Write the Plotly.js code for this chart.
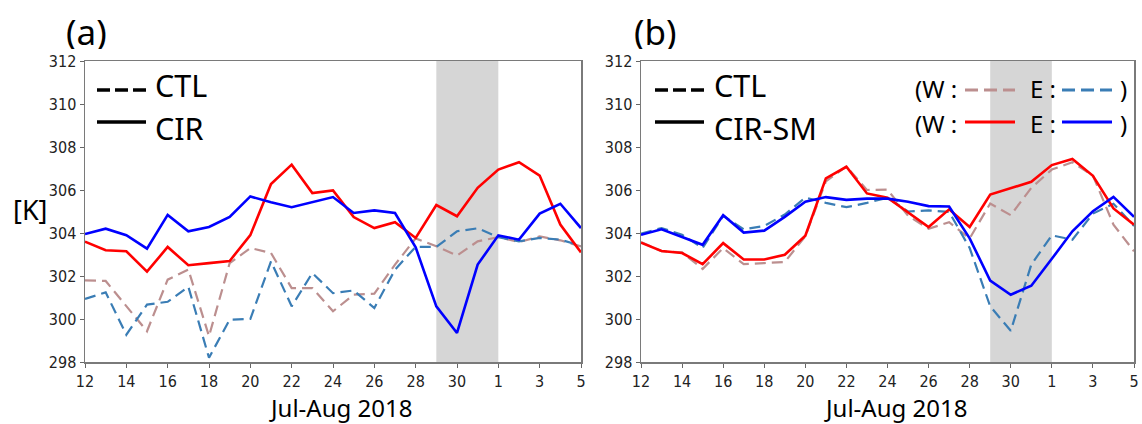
<!DOCTYPE html>
<html>
<head>
<meta charset="utf-8">
<script src="https://cdn.plot.ly/plotly-3.0.1.min.js"></script>
<style>
html,body{margin:0;padding:0;background:#fff;}
#chart{width:1142px;height:424px;}
</style>
</head>
<body>
<div id="chart"></div>
<script>
// ---------------- data ----------------
var dates = ['2018-07-12','2018-07-13','2018-07-14','2018-07-15','2018-07-16','2018-07-17','2018-07-18',
             '2018-07-19','2018-07-20','2018-07-21','2018-07-22','2018-07-23','2018-07-24','2018-07-25',
             '2018-07-26','2018-07-27','2018-07-28','2018-07-29','2018-07-30','2018-07-31','2018-08-01',
             '2018-08-02','2018-08-03','2018-08-04','2018-08-05'];

var tickDates  = ['2018-07-12','2018-07-14','2018-07-16','2018-07-18','2018-07-20','2018-07-22','2018-07-24',
                  '2018-07-26','2018-07-28','2018-07-30','2018-08-01','2018-08-03','2018-08-05'];
var tickLabels = ['12','14','16','18','20','22','24','26','28','30','1','3','5'];
var yTicks = [298,300,302,304,306,308,310,312];

var shadeStart = '2018-07-29';
var shadeEnd   = '2018-08-01';

// Panel (a)
var ctlA_W = [301.80,301.77,300.60,299.43,301.83,302.30,299.20,302.60,303.30,303.07,301.44,301.44,300.36,
              301.13,301.18,302.53,303.75,303.38,302.95,303.61,303.81,303.58,303.84,303.66,303.38];
var ctlA_E = [300.93,301.24,299.27,300.67,300.80,301.50,298.20,299.97,300.00,302.68,300.59,302.14,301.20,
              301.33,300.51,302.29,303.36,303.35,304.08,304.22,303.81,303.61,303.77,303.69,303.41];
var cirA_W = [303.60,303.20,303.15,302.20,303.35,302.50,302.60,302.70,303.90,306.28,307.18,305.86,305.98,
              304.74,304.23,304.50,303.77,305.30,304.78,306.10,306.95,307.29,306.67,304.39,303.10];
var cirA_E = [303.95,304.20,303.90,303.27,304.84,304.08,304.28,304.75,305.70,305.43,305.20,305.43,305.67,
              304.93,305.05,304.93,303.33,300.59,299.35,302.53,303.89,303.69,304.90,305.36,304.23];

// Panel (b)
var ctlB_W = [303.58,303.15,303.10,302.33,303.30,302.55,302.60,302.65,303.85,306.40,307.10,306.00,306.02,
              304.80,304.20,304.50,303.75,305.37,304.83,306.10,306.95,307.29,306.67,304.39,303.15];
var ctlB_E = [303.97,304.23,303.92,303.30,304.80,304.17,304.33,304.86,305.65,305.40,305.20,305.40,305.64,
              305.00,305.05,304.98,303.30,300.59,299.45,302.53,303.89,303.69,304.90,305.36,304.33];
var cirB_W = [303.55,303.16,303.07,302.55,303.53,302.77,302.77,302.99,303.87,306.54,307.08,305.84,305.64,
              304.98,304.28,305.10,304.28,305.79,306.07,306.38,307.16,307.44,306.66,305.14,304.39];
var cirB_E = [303.92,304.17,303.81,303.45,304.83,304.02,304.11,304.75,305.45,305.67,305.54,305.60,305.60,
              305.45,305.25,305.23,303.75,301.79,301.13,301.55,302.80,304.08,305.01,305.68,304.75];

// ---------------- styling ----------------
var W = 1142, H = 424;
var C_ROSY = '#bc8f8f', C_STEEL = '#3a7db5', C_RED = '#ff0000', C_BLUE = '#0000ff';
var DASH = '11px,6px';
var TXT = 'Noto Sans, DejaVu Sans, sans-serif';
var TICKF = 'DejaVu Sans Condensed, Liberation Sans Narrow, DejaVu Sans, sans-serif';

function px(x){ return x / W; }
function py(y){ return 1 - y / H; }

function tr(y, color, dash, width, xa, ya){
  return {x: dates, y: y, type: 'scatter', mode: 'lines', xaxis: xa, yaxis: ya,
          line: {color: color, width: width, dash: dash}, showlegend: false, hoverinfo: 'skip'};
}

var traces = [
  tr(ctlA_W, C_ROSY, DASH, 2.2, 'x', 'y'),
  tr(ctlA_E, C_STEEL, DASH, 2.2, 'x', 'y'),
  tr(cirA_W, C_RED, 'solid', 2.6, 'x', 'y'),
  tr(cirA_E, C_BLUE, 'solid', 2.6, 'x', 'y'),
  tr(ctlB_W, C_ROSY, DASH, 2.2, 'x2', 'y2'),
  tr(ctlB_E, C_STEEL, DASH, 2.2, 'x2', 'y2'),
  tr(cirB_W, C_RED, 'solid', 2.6, 'x2', 'y2'),
  tr(cirB_E, C_BLUE, 'solid', 2.6, 'x2', 'y2')
];

function xax(dom, anchor){
  return {domain: dom, anchor: anchor, type: 'date', range: [dates[0], dates[dates.length-1]],
          tickmode: 'array', tickvals: tickDates, ticktext: tickLabels,
          ticks: 'outside', ticklen: 4, tickwidth: 1, tickcolor: '#666',
          showline: true, mirror: true, linecolor: '#7a7a7a', linewidth: 1.5,
          showgrid: false, zeroline: false, fixedrange: true,
          tickfont: {family: TICKF, size: 16, color: '#222'}};
}
function yax(anchor){
  return {domain: [1 - 362/H, 1 - 61/H], anchor: anchor, range: [298, 312],
          tickmode: 'array', tickvals: yTicks,
          ticks: 'outside', ticklen: 4, tickwidth: 1, tickcolor: '#666',
          showline: true, mirror: true, linecolor: '#7a7a7a', linewidth: 1.5,
          showgrid: false, zeroline: false, fixedrange: true,
          tickfont: {family: TICKF, size: 16, color: '#222'}};
}

var shapes = [
  {type: 'rect', xref: 'x', yref: 'y domain', x0: shadeStart, x1: shadeEnd, y0: 0, y1: 1,
   fillcolor: '#d6d6d6', line: {width: 0}, layer: 'below'},
  {type: 'rect', xref: 'x2', yref: 'y2 domain', x0: shadeStart, x1: shadeEnd, y0: 0, y1: 1,
   fillcolor: '#d6d6d6', line: {width: 0}, layer: 'below'}
];
function lseg(x0, x1, y, color, dash, w){
  shapes.push({type: 'line', xref: 'paper', yref: 'paper', x0: px(x0), x1: px(x1), y0: py(y), y1: py(y),
               line: {color: color, width: w, dash: dash}});
}
// legend samples
lseg(97, 146, 90, '#000', '13px,5px', 3.5);
lseg(97, 146, 122, '#000', 'solid', 3.5);
lseg(655, 704, 90, '#000', '13px,5px', 3.5);
lseg(655, 704, 122, '#000', 'solid', 3.5);
lseg(965, 1015, 90, C_ROSY, '13px,6px', 3);
lseg(1062, 1112, 90, C_STEEL, '13px,6px', 3);
lseg(965, 1015, 122, C_RED, 'solid', 3);
lseg(1062, 1112, 122, C_BLUE, 'solid', 3);

var annotations = [];
function txt(s, x, y, size, xanchor, h){
  var a = {text: s, xref: 'paper', yref: 'paper', x: px(x), y: py(y), xanchor: xanchor || 'left',
           yanchor: 'middle', showarrow: false,
           font: {family: TXT, size: size, color: '#000'}};
  if (h) { a.height = h; a.valign = 'middle'; }
  annotations.push(a);
}
txt('(a)', 64, 31, 35, 'left', 36);
txt('(b)', 632, 31, 35, 'left', 36);
txt('[K]', 30, 210, 27, 'center');
txt('Jul-Aug 2018', 340, 407, 24, 'center');
txt('Jul-Aug 2018', 895, 407, 24, 'center');
txt('CTL', 153, 85.5, 30.5, 'left');
txt('CIR', 153, 128, 30.5, 'left');
txt('CTL', 712, 85.5, 30.5, 'left');
txt('CIR-SM', 712, 128, 30.5, 'left');
txt('(W :', 913, 89, 24, 'left');
txt('E :', 1028, 89, 24, 'left');
txt(')', 1118, 89, 24, 'left');
txt('(W :', 913, 123, 24, 'left');
txt('E :', 1028, 123, 24, 'left');
txt(')', 1118, 123, 24, 'left');

var layout = {
  width: W, height: H,
  margin: {l: 0, r: 0, t: 0, b: 0},
  paper_bgcolor: '#fff', plot_bgcolor: '#fff',
  showlegend: false,
  xaxis: xax([85/W, 581/W], 'y'),
  yaxis: yax('x'),
  xaxis2: xax([641/W, 1134/W], 'y2'),
  yaxis2: yax('x2'),
  shapes: shapes,
  annotations: annotations
};

Plotly.newPlot('chart', traces, layout, {staticPlot: true, displayModeBar: false});
</script>
</body>
</html>
